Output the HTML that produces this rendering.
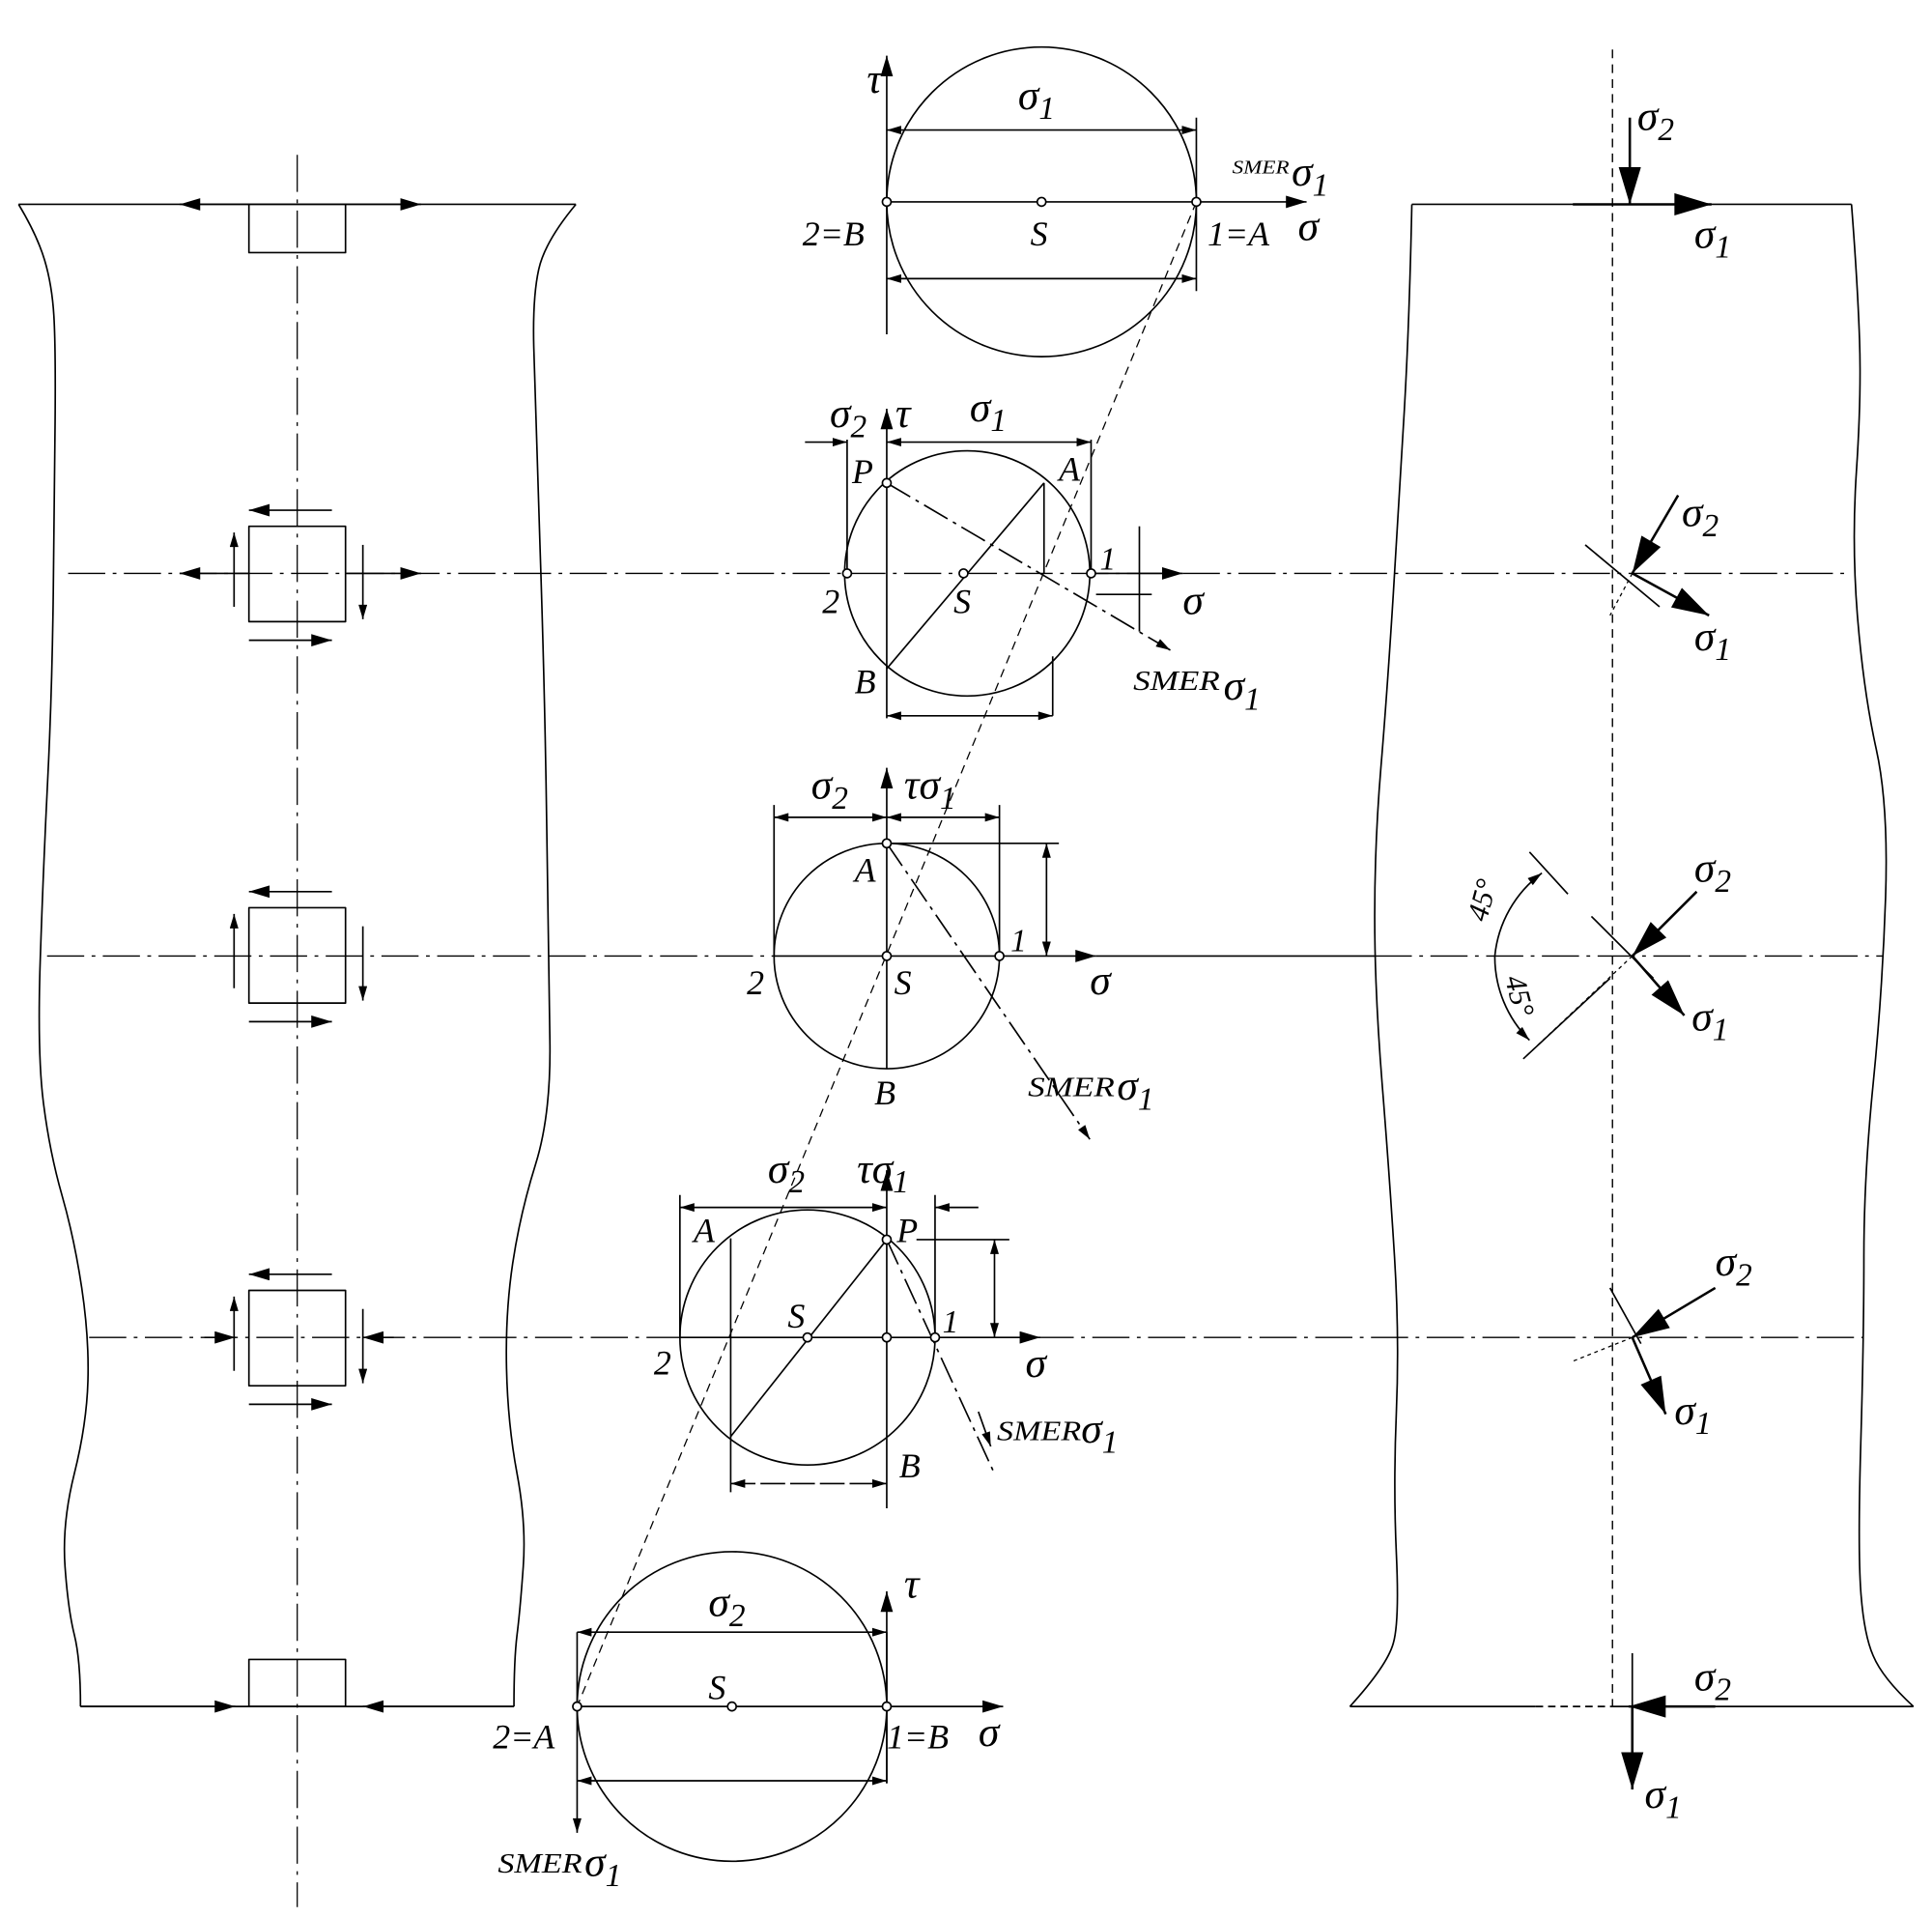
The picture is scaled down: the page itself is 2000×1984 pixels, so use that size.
<!DOCTYPE html>
<html><head><meta charset="utf-8"><style>
html,body{margin:0;padding:0;background:#fff;}
svg{display:block;}
text{font-family:"Liberation Serif",serif;font-style:italic;fill:#000;}
</style></head><body>
<svg width="2000" height="1984" viewBox="0 0 1560 1548" preserveAspectRatio="none" xmlns="http://www.w3.org/2000/svg">
<defs>
<marker id="a" viewBox="0 0 10 6" refX="10" refY="3" markerWidth="18" markerHeight="7" markerUnits="userSpaceOnUse" orient="auto-start-reverse"><path d="M0,0L10,3L0,6Z" fill="#000"/></marker>
<marker id="m" viewBox="0 0 10 6" refX="10" refY="3" markerWidth="24" markerHeight="10" markerUnits="userSpaceOnUse" orient="auto-start-reverse"><path d="M0,0L10,3L0,6Z" fill="#000"/></marker>
<marker id="b" viewBox="0 0 10 6" refX="10" refY="3" markerWidth="42" markerHeight="18" markerUnits="userSpaceOnUse" orient="auto"><path d="M0,0L10,3L0,6Z" fill="#000"/></marker>
</defs>
<g fill="none" stroke="#000" stroke-width="1.3" stroke-linejoin="round">
<!-- left specimen -->
<path d="M15,165 Q30,190 36,210 Q42,230 43.5,255 Q45,280 44.5,340 Q44,400 43,480 Q42,560 38.5,630 Q35,700 32.5,775 Q30,850 35,890 Q40,930 50,965 Q60,1000 66,1040 Q72,1080 71,1115 Q70,1150 60,1190 Q50,1230 52.5,1265 Q55,1300 60,1320 Q65,1340 65,1378"/>
<path d="M465,165 Q440,195 435,217.5 Q430,240 431,280 Q432,320 436,440 Q440,560 441.5,670 Q443,780 444,840 Q445,900 432.5,940 Q420,980 414,1020 Q408,1060 409,1105 Q410,1150 417.5,1190 Q425,1230 422.5,1265 Q420,1300 417.5,1320 Q415,1340 415,1378"/>
<line x1="15" y1="165" x2="465" y2="165"/>
<line x1="65" y1="1378" x2="415" y2="1378"/>
<line x1="240" y1="125" x2="240" y2="1540" stroke-dasharray="30 6 3 6" stroke-width="1"/>
<rect x="201" y="165" width="78" height="39"/>
<rect x="201" y="1340" width="78" height="38"/>
<rect x="201" y="425" width="78" height="77"/>
<rect x="201" y="733" width="78" height="77"/>
<rect x="201" y="1042" width="78" height="77"/>
<line x1="201" y1="165" x2="145" y2="165" marker-end="url(#m)"/>
<line x1="279" y1="165" x2="340" y2="165" marker-end="url(#m)"/>
<line x1="65" y1="1378" x2="190" y2="1378" marker-end="url(#m)"/>
<line x1="415" y1="1378" x2="293" y2="1378" marker-end="url(#m)"/>
<g>
<line x1="268" y1="412" x2="201" y2="412" marker-end="url(#m)"/><line x1="201" y1="517" x2="268" y2="517" marker-end="url(#m)"/>
<line x1="189" y1="490" x2="189" y2="430" marker-end="url(#a)"/><line x1="293" y1="440" x2="293" y2="500" marker-end="url(#a)"/>
<line x1="268" y1="720" x2="201" y2="720" marker-end="url(#m)"/><line x1="201" y1="825" x2="268" y2="825" marker-end="url(#m)"/>
<line x1="189" y1="798" x2="189" y2="738" marker-end="url(#a)"/><line x1="293" y1="748" x2="293" y2="808" marker-end="url(#a)"/>
<line x1="268" y1="1029" x2="201" y2="1029" marker-end="url(#m)"/><line x1="201" y1="1134" x2="268" y2="1134" marker-end="url(#m)"/>
<line x1="189" y1="1107" x2="189" y2="1047" marker-end="url(#a)"/><line x1="293" y1="1057" x2="293" y2="1117" marker-end="url(#a)"/>
</g>
<line x1="201" y1="463" x2="145" y2="463" marker-end="url(#m)"/>
<line x1="279" y1="463" x2="340" y2="463" marker-end="url(#m)"/>
<line x1="165" y1="1080" x2="190" y2="1080" marker-end="url(#m)"/>
<line x1="318" y1="1080" x2="293" y2="1080" marker-end="url(#m)"/>
<g stroke-dasharray="30 6 3 6" stroke-width="1.1">
<line x1="55" y1="463" x2="1490" y2="463"/>
<line x1="38" y1="772" x2="625" y2="772"/>
<line x1="1110" y1="772" x2="1520" y2="772"/>
<line x1="72" y1="1080" x2="1505" y2="1080"/>
</g>
<line x1="885" y1="772" x2="1110" y2="772"/>
<line x1="966" y1="163" x2="466" y2="1378" stroke-dasharray="7 5" stroke-width="1"/>

<!-- C1 -->
<circle cx="841" cy="163" r="125"/>
<line x1="716" y1="270" x2="716" y2="45" marker-end="url(#m)"/>
<line x1="716" y1="163" x2="1055" y2="163" marker-end="url(#m)"/>
<line x1="966" y1="95" x2="966" y2="235"/>
<line x1="716" y1="105" x2="966" y2="105" marker-start="url(#a)" marker-end="url(#a)"/>
<line x1="716" y1="225" x2="966" y2="225" marker-start="url(#a)" marker-end="url(#a)"/>
<circle cx="716" cy="163" r="3.5" fill="#fff"/><circle cx="841" cy="163" r="3.5" fill="#fff"/><circle cx="966" cy="163" r="3.5" fill="#fff"/>

<!-- C2 -->
<circle cx="781" cy="463" r="99"/>
<line x1="716" y1="580" x2="716" y2="330" marker-end="url(#m)"/>
<line x1="881" y1="463" x2="955" y2="463" marker-end="url(#m)"/>
<line x1="684" y1="355" x2="684" y2="463"/><line x1="881" y1="355" x2="881" y2="463"/>
<line x1="650" y1="357" x2="684" y2="357" marker-end="url(#a)"/>
<line x1="716" y1="357" x2="881" y2="357" marker-start="url(#a)" marker-end="url(#a)"/>
<line x1="843" y1="390" x2="716" y2="540"/>
<line x1="843" y1="390" x2="843" y2="463"/>
<line x1="716" y1="390" x2="945" y2="525" stroke-dasharray="22 5 3 5" marker-end="url(#a)"/>
<line x1="850" y1="530" x2="850" y2="578"/>
<line x1="716" y1="578" x2="850" y2="578" marker-start="url(#a)" marker-end="url(#a)"/>
<line x1="920" y1="425" x2="920" y2="510"/><line x1="885" y1="480" x2="930" y2="480"/>
<circle cx="684" cy="463" r="3.5" fill="#fff"/><circle cx="778" cy="463" r="3.5" fill="#fff"/><circle cx="881" cy="463" r="3.5" fill="#fff"/><circle cx="716" cy="390" r="3.5" fill="#fff"/>

<!-- C3 -->
<circle cx="716" cy="772" r="91"/>
<line x1="716" y1="863" x2="716" y2="620" marker-end="url(#m)"/>
<line x1="625" y1="772" x2="885" y2="772" marker-end="url(#m)"/>
<line x1="625" y1="650" x2="625" y2="772"/><line x1="807" y1="650" x2="807" y2="772"/>
<line x1="625" y1="660" x2="716" y2="660" marker-start="url(#a)" marker-end="url(#a)"/>
<line x1="716" y1="660" x2="807" y2="660" marker-start="url(#a)" marker-end="url(#a)"/>
<line x1="716" y1="681" x2="855" y2="681"/>
<line x1="845" y1="681" x2="845" y2="772" marker-start="url(#a)" marker-end="url(#a)"/>
<line x1="716" y1="681" x2="880" y2="920" stroke-dasharray="22 5 3 5" marker-end="url(#a)"/>
<circle cx="716" cy="681" r="3.5" fill="#fff"/><circle cx="716" cy="772" r="3.5" fill="#fff"/><circle cx="807" cy="772" r="3.5" fill="#fff"/>

<!-- C4 -->
<circle cx="652" cy="1080" r="103"/>
<line x1="716" y1="1218" x2="716" y2="945" marker-end="url(#m)"/>
<line x1="549" y1="1080" x2="840" y2="1080" marker-end="url(#m)"/>
<line x1="549" y1="965" x2="549" y2="1080"/><line x1="755" y1="965" x2="755" y2="1080"/>
<line x1="549" y1="975" x2="716" y2="975" marker-start="url(#a)" marker-end="url(#a)"/>
<line x1="790" y1="975" x2="755" y2="975" marker-end="url(#a)"/>
<line x1="590" y1="1000" x2="590" y2="1205"/>
<line x1="716" y1="1001" x2="590" y2="1160"/>
<line x1="740" y1="1001" x2="815" y2="1001"/>
<line x1="803" y1="1001" x2="803" y2="1080" marker-start="url(#a)" marker-end="url(#a)"/>
<line x1="716" y1="1001" x2="803" y2="1190" stroke-dasharray="22 5 3 5"/>
<line x1="790" y1="1140" x2="800" y2="1168" marker-end="url(#a)"/>
<line x1="590" y1="1198" x2="716" y2="1198" marker-start="url(#a)" marker-end="url(#a)" stroke-dasharray="20 4"/>
<circle cx="652" cy="1080" r="3.5" fill="#fff"/><circle cx="716" cy="1080" r="3.5" fill="#fff"/><circle cx="755" cy="1080" r="3.5" fill="#fff"/><circle cx="716" cy="1001" r="3.5" fill="#fff"/>

<!-- C5 -->
<circle cx="591" cy="1378" r="125"/>
<line x1="716" y1="1440" x2="716" y2="1285" marker-end="url(#m)"/>
<line x1="466" y1="1378" x2="810" y2="1378" marker-end="url(#m)"/>
<line x1="466" y1="1318" x2="466" y2="1480" marker-end="url(#a)"/>
<line x1="716" y1="1318" x2="716" y2="1440"/>
<line x1="466" y1="1318" x2="716" y2="1318" marker-start="url(#a)" marker-end="url(#a)"/>
<line x1="466" y1="1438" x2="716" y2="1438" marker-start="url(#a)" marker-end="url(#a)"/>
<circle cx="466" cy="1378" r="3.5" fill="#fff"/><circle cx="591" cy="1378" r="3.5" fill="#fff"/><circle cx="716" cy="1378" r="3.5" fill="#fff"/>

<!-- right specimen -->
<path d="M1140,165 Q1138,260 1134,330 Q1130,400 1125,480 Q1120,560 1115,620 Q1110,680 1110,740 Q1110,800 1116,875 Q1122,950 1126,1015 Q1130,1080 1127.5,1140 Q1125,1200 1127.5,1255 Q1130,1310 1125,1327 Q1120,1345 1090,1378"/>
<path d="M1495,165 Q1500,230 1501.5,275 Q1503,320 1499,380 Q1495,440 1500,500 Q1505,560 1515,605 Q1525,650 1522.5,725 Q1520,800 1512.5,875 Q1505,950 1505,1015 Q1505,1080 1502.5,1165 Q1500,1250 1502.5,1285 Q1505,1320 1512.5,1337 Q1520,1355 1545,1378"/>
<line x1="1140" y1="165" x2="1495" y2="165"/>
<line x1="1090" y1="1378" x2="1240" y2="1378"/><line x1="1240" y1="1378" x2="1300" y2="1378" stroke-dasharray="6 4"/><line x1="1300" y1="1378" x2="1545" y2="1378"/>
<line x1="1302" y1="40" x2="1302" y2="1378" stroke-dasharray="7 5" stroke-width="1.1"/>
<g stroke-width="2">
<line x1="1316" y1="95" x2="1316" y2="165" marker-end="url(#b)"/>
<line x1="1270" y1="165" x2="1382" y2="165" marker-end="url(#b)"/>
<line x1="1280" y1="440" x2="1340" y2="490" stroke-width="1.3"/>
<line x1="1355" y1="400" x2="1318" y2="463" marker-end="url(#b)"/>
<line x1="1318" y1="463" x2="1380" y2="497" marker-end="url(#b)"/>
<line x1="1285" y1="740" x2="1335" y2="790" stroke-width="1.3"/>
<line x1="1370" y1="720" x2="1318" y2="772" marker-end="url(#b)"/>
<line x1="1318" y1="772" x2="1360" y2="820" marker-end="url(#b)"/>
<line x1="1300" y1="1040" x2="1325" y2="1085" stroke-width="1.3"/>
<line x1="1385" y1="1040" x2="1318" y2="1080" marker-end="url(#b)"/>
<line x1="1318" y1="1080" x2="1345" y2="1142" marker-end="url(#b)"/>
<line x1="1318" y1="1335" x2="1318" y2="1378" stroke-width="1.3"/>
<line x1="1385" y1="1378" x2="1315" y2="1378" marker-end="url(#b)"/>
<line x1="1318" y1="1378" x2="1318" y2="1445" marker-end="url(#b)"/>
</g>
<line x1="1318" y1="463" x2="1300" y2="497" stroke-dasharray="3 3" stroke-width="1"/>
<line x1="1318" y1="772" x2="1230" y2="855" stroke-dasharray="3 3" stroke-width="1"/>
<line x1="1318" y1="1080" x2="1268" y2="1100" stroke-dasharray="3 3" stroke-width="1"/>
<line x1="1235" y1="688" x2="1266" y2="722"/>
<line x1="1230" y1="855" x2="1300" y2="790"/>
<path d="M1245,705 A95,95 0 0 0 1207,772" marker-start="url(#a)"/>
<path d="M1207,772 A95,95 0 0 0 1235,840" marker-end="url(#a)"/>
</g>

<!-- labels -->
<g font-size="34">
<text x="700" y="75">τ</text><text x="822" y="88">σ<tspan font-size="26" dy="8">1</tspan></text>
<text x="995" y="140" font-size="16" textLength="46" lengthAdjust="spacingAndGlyphs">SMER</text><text x="1043" y="150">σ<tspan font-size="26" dy="8">1</tspan></text>
<text x="648" y="198" font-size="28">2=B</text><text x="832" y="198" font-size="28">S</text><text x="975" y="198" font-size="28">1=A</text><text x="1048" y="194">σ</text>

<text x="670" y="345">σ<tspan font-size="26" dy="8">2</tspan></text><text x="723" y="345">τ</text><text x="783" y="340">σ<tspan font-size="26" dy="8">1</tspan></text>
<text x="688" y="390" font-size="28">P</text><text x="855" y="388" font-size="28">A</text><text x="888" y="460" font-size="26">1</text>
<text x="664" y="495" font-size="28">2</text><text x="770" y="495" font-size="28">S</text><text x="955" y="496">σ</text>
<text x="690" y="560" font-size="28">B</text><text x="915" y="557" font-size="22" textLength="70" lengthAdjust="spacingAndGlyphs">SMER</text><text x="988" y="565">σ<tspan font-size="26" dy="8">1</tspan></text>

<text x="655" y="645">σ<tspan font-size="26" dy="8">2</tspan></text><text x="730" y="645">τσ<tspan font-size="26" dy="8">1</tspan></text>
<text x="690" y="712" font-size="28">A</text><text x="816" y="768" font-size="26">1</text><text x="603" y="803" font-size="28">2</text><text x="722" y="803" font-size="28">S</text><text x="880" y="803">σ</text>
<text x="706" y="892" font-size="28">B</text><text x="830" y="885" font-size="22" textLength="70" lengthAdjust="spacingAndGlyphs">SMER</text><text x="902" y="888">σ<tspan font-size="26" dy="8">1</tspan></text>

<text x="620" y="955">σ<tspan font-size="26" dy="8">2</tspan></text><text x="692" y="955">τσ<tspan font-size="26" dy="8">1</tspan></text>
<text x="560" y="1003" font-size="28">A</text><text x="724" y="1003" font-size="28">P</text><text x="636" y="1072" font-size="28">S</text><text x="761" y="1076" font-size="26">1</text>
<text x="528" y="1110" font-size="28">2</text><text x="828" y="1112">σ</text><text x="726" y="1193" font-size="28">B</text>
<text x="805" y="1163" font-size="22" textLength="68" lengthAdjust="spacingAndGlyphs">SMER</text><text x="873" y="1165">σ<tspan font-size="26" dy="8">1</tspan></text>

<text x="572" y="1305">σ<tspan font-size="26" dy="8">2</tspan></text><text x="730" y="1290">τ</text><text x="572" y="1372" font-size="28">S</text>
<text x="398" y="1412" font-size="28">2=A</text><text x="716" y="1412" font-size="28">1=B</text><text x="790" y="1410">σ</text>
<text x="402" y="1512" font-size="22" textLength="68" lengthAdjust="spacingAndGlyphs">SMER</text><text x="472" y="1515">σ<tspan font-size="26" dy="8">1</tspan></text>

<text x="1322" y="105">σ<tspan font-size="26" dy="8">2</tspan></text><text x="1368" y="200">σ<tspan font-size="26" dy="8">1</tspan></text>
<text x="1358" y="425">σ<tspan font-size="26" dy="8">2</tspan></text><text x="1368" y="525">σ<tspan font-size="26" dy="8">1</tspan></text>
<text x="1368" y="712">σ<tspan font-size="26" dy="8">2</tspan></text><text x="1366" y="832">σ<tspan font-size="26" dy="8">1</tspan></text>
<text x="1385" y="1030">σ<tspan font-size="26" dy="8">2</tspan></text><text x="1352" y="1150">σ<tspan font-size="26" dy="8">1</tspan></text>
<text x="1368" y="1365">σ<tspan font-size="26" dy="8">2</tspan></text><text x="1328" y="1460">σ<tspan font-size="26" dy="8">1</tspan></text>
<text font-size="24" font-style="normal" transform="translate(1200,745) rotate(-75)">45°</text>
<text font-size="24" font-style="normal" transform="translate(1215,790) rotate(75)">45°</text>
</g>
</svg>
</body></html>
